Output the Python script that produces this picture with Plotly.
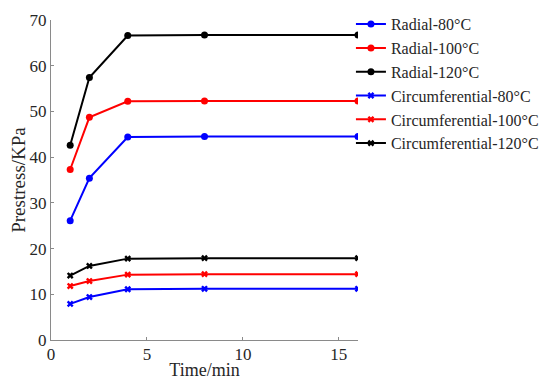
import plotly.graph_objects as go

time_min = [1, 2, 4, 8, 16]

radial_80 = [26.1, 35.4, 44.4, 44.5, 44.5]
radial_100 = [37.3, 48.7, 52.2, 52.3, 52.3]
radial_120 = [42.6, 57.4, 66.6, 66.7, 66.7]
circ_80 = [7.9, 9.4, 11.1, 11.2, 11.2]
circ_100 = [11.8, 12.9, 14.3, 14.4, 14.4]
circ_120 = [14.1, 16.2, 17.8, 17.9, 17.9]

series = [
    ("Radial-80°C", radial_80, "blue", "circle"),
    ("Radial-100°C", radial_100, "red", "circle"),
    ("Radial-120°C", radial_120, "black", "circle"),
    ("Circumferential-80°C", circ_80, "blue", "x"),
    ("Circumferential-100°C", circ_100, "red", "x"),
    ("Circumferential-120°C", circ_120, "black", "x"),
]

fig = go.Figure()
for name, vals, color, sym in series:
    fig.add_trace(go.Scatter(
        x=time_min, y=vals, name=name, mode="lines+markers",
        line=dict(color=color, width=2),
        marker=dict(symbol=sym, size=7 if sym == "circle" else 6, color=color),
    ))

font_family = "Liberation Serif"
axis_color = "#8a8a8a"
text_color = "#262626"
# page body has an 8px margin, so the figure is sized/offset to compensate
fig.update_layout(
    width=534, height=372,
    margin=dict(l=43, r=184, t=12, b=40, autoexpand=False),
    paper_bgcolor="white", plot_bgcolor="white",
    font=dict(family=font_family, size=17, color=text_color),
    showlegend=True,
    legend=dict(x=0.977, y=1.04, xanchor="left", yanchor="top",
                font=dict(size=16, family=font_family, color=text_color),
                bgcolor="rgba(0,0,0,0)", itemwidth=30, tracegroupgap=0),
    xaxis=dict(range=[0, 16], tickvals=[0, 5, 10, 15], ticks="inside", ticklen=3,
               tickcolor=axis_color, showline=True, linecolor=axis_color, linewidth=1,
               showgrid=False, zeroline=False, automargin=False, ticklabelstandoff=-1,
               tickfont=dict(family=font_family, size=17, color=text_color),
               title=dict(text="Time/min", font=dict(family=font_family, size=18, color=text_color), standoff=14)),
    yaxis=dict(range=[0, 70], tickvals=[0, 10, 20, 30, 40, 50, 60, 70], ticks="inside",
               ticklen=3, tickcolor=axis_color, showline=True, linecolor=axis_color,
               linewidth=1, showgrid=False, zeroline=False, automargin=False,
               tickfont=dict(family=font_family, size=17, color=text_color),
               title=dict(text="Prestress/KPa", font=dict(family=font_family, size=19, color=text_color), standoff=0)),
)

fig.write_html("out.html")
